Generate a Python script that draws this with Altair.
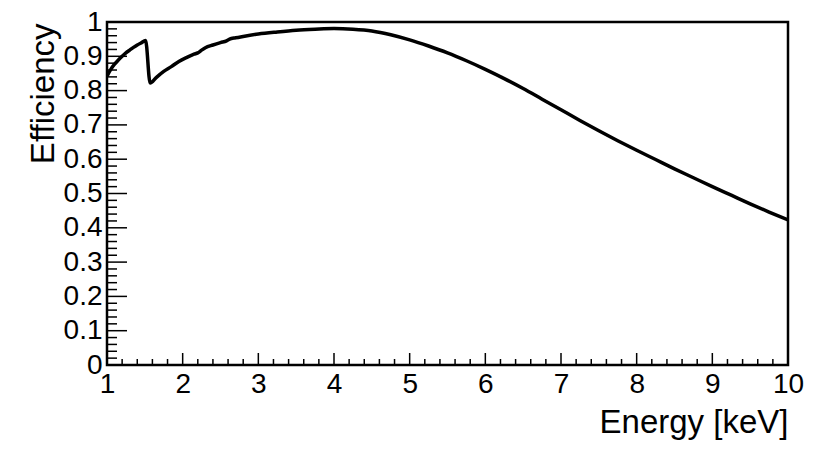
import altair as alt
import pandas as pd

# Efficiency curve
energy = [1.00, 1.05, 1.10, 1.15, 1.20, 1.25, 1.30, 1.35, 1.40, 1.45, 1.51,
          1.57, 1.65, 1.75, 1.85, 1.95, 2.05, 2.15, 2.20, 2.25, 2.30, 2.40,
          2.50, 2.58, 2.62, 2.70, 2.80, 3.00, 3.25, 3.50, 3.75, 4.00, 4.25,
          4.50, 4.75, 5.00, 5.25, 5.50, 5.75, 6.00, 6.25, 6.50, 6.75, 7.00,
          7.25, 7.50, 7.75, 8.00, 8.25, 8.50, 8.75, 9.00, 9.25, 9.50, 9.75,
          10.00]
efficiency = [0.842, 0.862, 0.877, 0.889, 0.900, 0.910, 0.918, 0.926, 0.933,
              0.939, 0.946, 0.822, 0.838, 0.856, 0.870, 0.885, 0.896, 0.906,
              0.910, 0.918, 0.925, 0.933, 0.940, 0.945, 0.950, 0.954, 0.958,
              0.965, 0.971, 0.976, 0.979, 0.981, 0.979, 0.974, 0.963, 0.948,
              0.930, 0.910, 0.887, 0.862, 0.835, 0.806, 0.775, 0.744, 0.713,
              0.683, 0.654, 0.626, 0.599, 0.572, 0.546, 0.520, 0.495, 0.470,
              0.446, 0.423]

x_major = [1, 2, 3, 4, 5, 6, 7, 8, 9, 10]
y_major = [i / 10 for i in range(11)]
x_minor = [round(1 + i * 0.2, 2) for i in range(46) if i % 5 != 0]
y_minor = [round(i * 0.02, 2) for i in range(51) if i % 5 != 0]

W, H = 681, 343
FONT = "Liberation Sans"

df = pd.DataFrame({"e": energy, "eff": efficiency})
xs = alt.Scale(domain=[1, 10], nice=False, zero=False)
ys = alt.Scale(domain=[0, 1], nice=False, zero=True)

x_axis = alt.Axis(
    values=x_major, format="d", title="Energy [keV]",
    ticks=False, tickSize=0, domain=False, grid=False,
    labelFont=FONT, labelFontSize=28, labelColor="black",
    labelBaseline="top", labelPadding=5, labelOverlap=False,
    labelFlush=False, labelBound=False,
    titleFont=FONT, titleFontSize=33, titleFontWeight="normal",
    titleColor="black", titleAlign="right", titleBaseline="alphabetic",
    titleX=W, titleY=67)
y_axis = alt.Axis(
    values=y_major, format=".1~f", title="Efficiency",
    ticks=False, tickSize=0, domain=False, grid=False,
    labelFont=FONT, labelFontSize=28, labelColor="black",
    labelBaseline="middle", labelAlign="right", labelPadding=5,
    labelOverlap=False, labelFlush=False, labelBound=False,
    titleFont=FONT, titleFontSize=33, titleFontWeight="normal",
    titleColor="black", titleAngle=270, titleAlign="right",
    titleBaseline="alphabetic", titleX=-54, titleY=1)

line = alt.Chart(df).mark_line(
    color="black", strokeWidth=3.5, clip=True, interpolate="monotone"
).encode(
    x=alt.X("e:Q", scale=xs, axis=x_axis),
    y=alt.Y("eff:Q", scale=ys, axis=y_axis),
)

def xticks(vals, length):
    return alt.Chart(pd.DataFrame({"e": vals})).mark_rule(
        color="black", strokeWidth=1.5).encode(
        x=alt.X("e:Q", scale=xs, axis=x_axis),
        y=alt.value(H), y2=alt.value(H - length))

def yticks(vals, length):
    return alt.Chart(pd.DataFrame({"eff": vals})).mark_rule(
        color="black", strokeWidth=1.5).encode(
        y=alt.Y("eff:Q", scale=ys, axis=y_axis),
        x=alt.value(0), x2=alt.value(length))

chart = alt.layer(
    line,
    xticks(x_minor, 6), xticks(x_major, 12),
    yticks(y_minor, 10), yticks(y_major, 20),
).properties(
    width=W, height=H,
    background="white",
    autosize=alt.AutoSizeParams(type="none"),
    padding={"left": 99, "top": 14, "right": 34, "bottom": 84},
).configure_view(
    stroke="black", strokeWidth=2.5
)

chart.save("out.html", embed_options={"renderer": "svg", "actions": False})
